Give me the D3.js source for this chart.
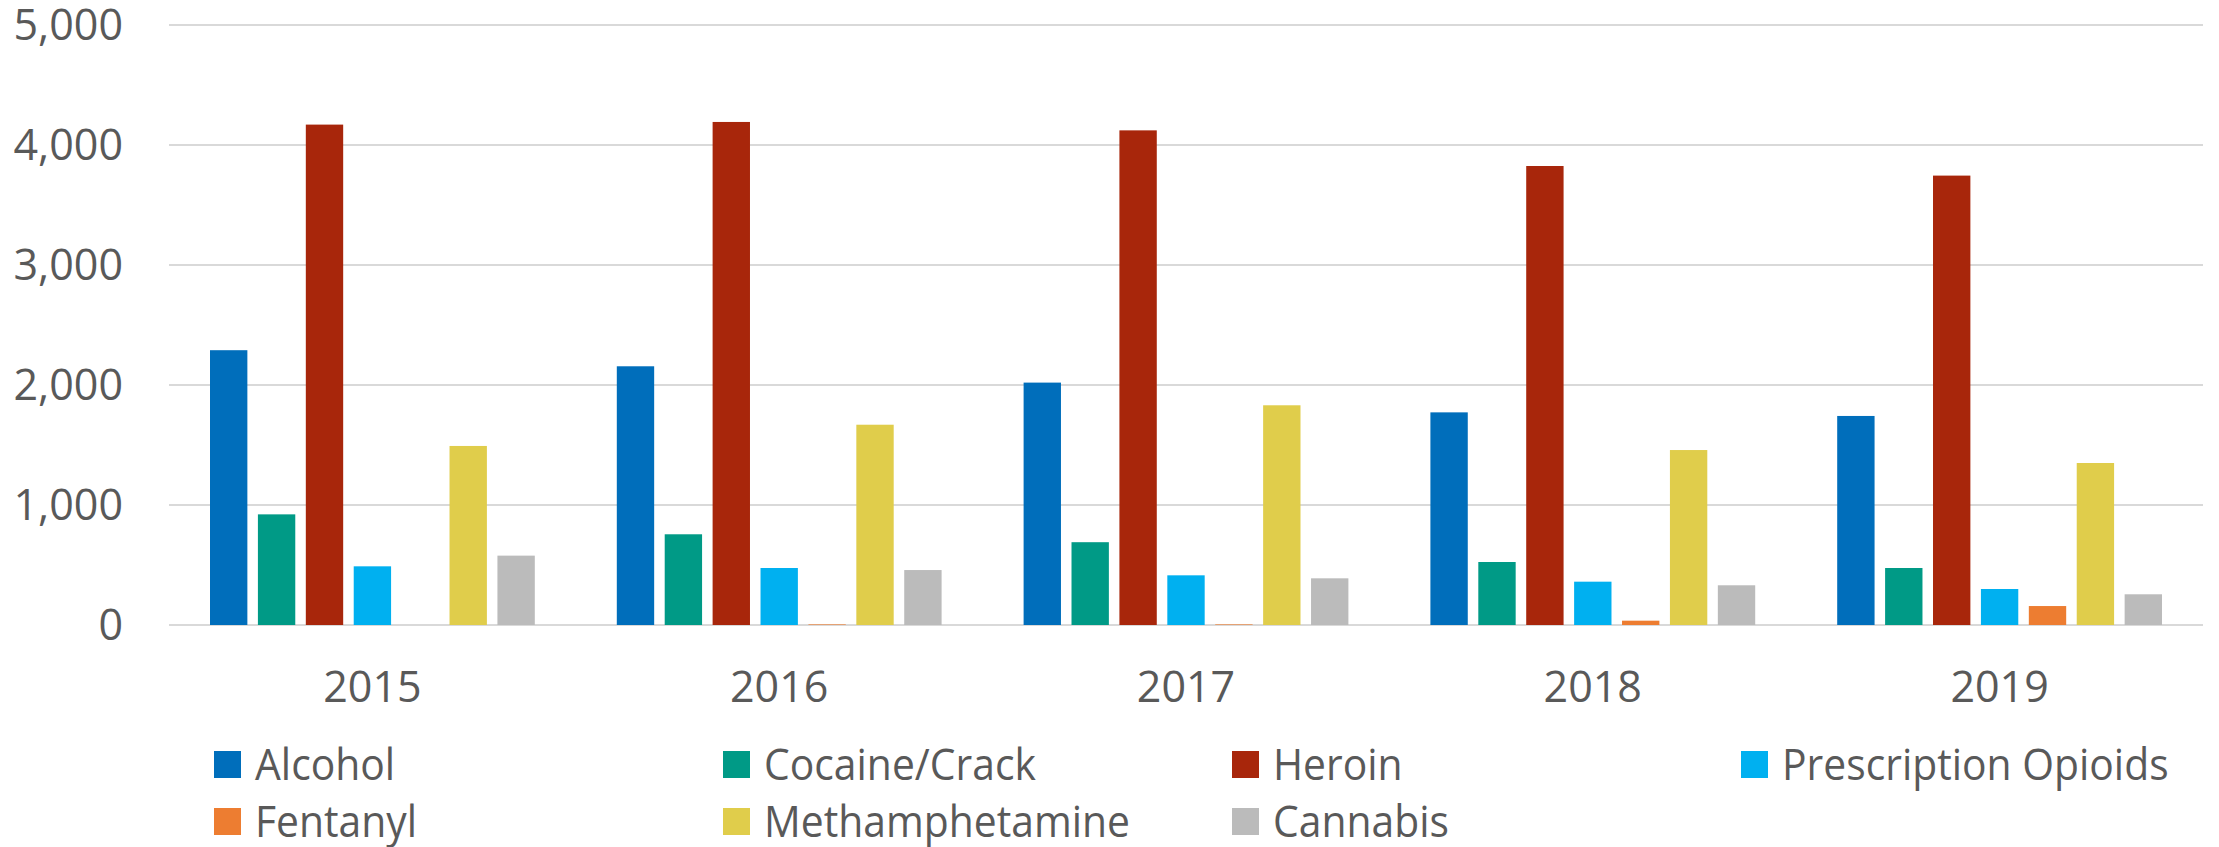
<!DOCTYPE html>
<html>
<head>
<meta charset="utf-8">
<script src="https://cdn.jsdelivr.net/npm/d3@7"></script>
<style>
  body { margin: 0; background: #fff; }
  text { font-family: "Open Sans", "Noto Sans", sans-serif; fill: #595959; }
</style>
</head>
<body>
<div id="chart"></div>
<script>
// years on the x axis, one cluster each
var years = ["2015", "2016", "2017", "2018", "2019"];

var series = ["Alcohol", "Cocaine/Crack", "Heroin", "Prescription Opioids",
              "Fentanyl", "Methamphetamine", "Cannabis"];

var colors = ["#006EBB", "#009A86", "#A8260B", "#00B0F0",
              "#ED7D31", "#E0CD4B", "#BBBBBB"];

// values per series, one per year
var alcohol      = [2290, 2156, 2020, 1772, 1742];
var cocaine      = [922, 756, 690, 525, 475];
var heroin       = [4170, 4192, 4122, 3825, 3745];
var prescription = [489, 475, 414, 361, 300];
var fentanyl     = [0, 5, 5, 36, 158];
var meth         = [1492, 1669, 1831, 1458, 1350];
var cannabis     = [578, 458, 389, 331, 256];

var yTicks = [0, 1000, 2000, 3000, 4000, 5000];

var values = [alcohol, cocaine, heroin, prescription, fentanyl, meth, cannabis];

var W = 2219, H = 847;
var plotLeft = 169, plotRight = 2203, plotTop = 25, plotBottom = 625;

var svg = d3.select("#chart").append("svg")
    .attr("width", W)
    .attr("height", H);

var y = d3.scaleLinear()
    .domain([0, 5000])
    .range([plotBottom, plotTop]);

var x0 = d3.scaleBand()
    .domain(years)
    .range([plotLeft, plotRight]);

var inset = 41;
var x1 = d3.scaleBand()
    .domain(d3.range(series.length))
    .range([inset, x0.bandwidth() - inset])
    .paddingInner(0.22);

// gridlines
svg.append("g")
  .selectAll("line")
  .data(yTicks)
  .join("line")
    .attr("x1", plotLeft)
    .attr("x2", plotRight)
    .attr("y1", function (d) { return y(d); })
    .attr("y2", function (d) { return y(d); })
    .attr("stroke", "#D9D9D9")
    .attr("stroke-width", 2);

// y labels
svg.append("g")
  .selectAll("text")
  .data(yTicks)
  .join("text")
    .attr("x", 123)
    .attr("y", function (d) { return y(d); })
    .attr("dy", "0.36em")
    .attr("text-anchor", "end")
    .attr("font-size", 43)
    .text(d3.format(","));

// bars
var groups = svg.append("g")
  .selectAll("g")
  .data(years)
  .join("g")
    .attr("transform", function (d) { return "translate(" + x0(d) + ",0)"; });

groups.selectAll("rect")
  .data(function (d, i) {
    return values.map(function (s, k) { return { k: k, v: s[i] }; });
  })
  .join("rect")
    .attr("x", function (d) { return x1(d.k); })
    .attr("width", x1.bandwidth())
    .attr("y", function (d) { return y(d.v); })
    .attr("height", function (d) { return plotBottom - y(d.v); })
    .attr("fill", function (d) { return colors[d.k]; });

// x labels
svg.append("g")
  .selectAll("text")
  .data(years)
  .join("text")
    .attr("x", function (d) { return x0(d) + x0.bandwidth() / 2; })
    .attr("y", 702)
    .attr("text-anchor", "middle")
    .attr("font-size", 43)
    .text(function (d) { return d; });

// legend, 4 columns; second row nudged up so descenders stay inside
var legend = svg.append("g")
  .selectAll("g")
  .data(series)
  .join("g")
    .attr("transform", function (d, i) {
      return "translate(" + (214 + (i % 4) * 509) + "," + (751 + Math.floor(i / 4) * 57) + ")";
    });

legend.append("rect")
    .attr("width", 27)
    .attr("height", 27)
    .attr("fill", function (d, i) { return colors[i]; });

legend.append("text")
    .attr("transform", "translate(41,29) scale(0.95,1)")
    .attr("font-size", 43)
    .text(function (d) { return d; });
</script>
</body>
</html>
